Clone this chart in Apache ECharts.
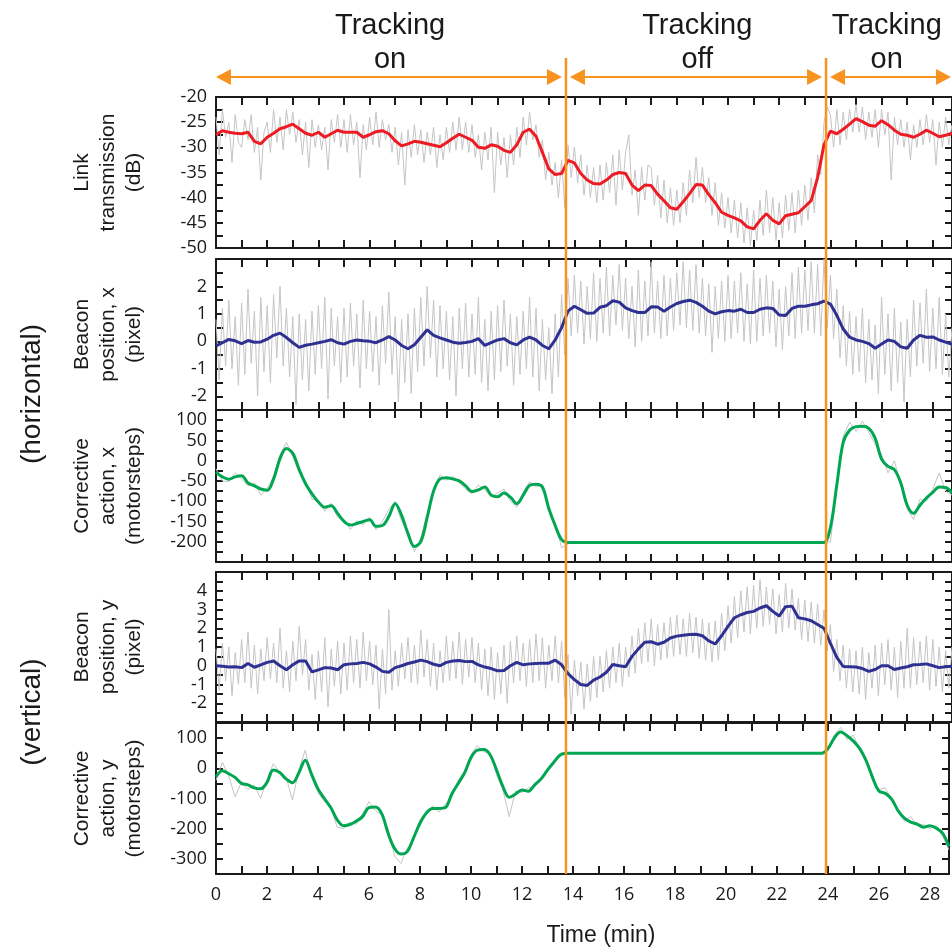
<!DOCTYPE html>
<html>
<head>
<meta charset="utf-8">
<script src="https://cdn.jsdelivr.net/npm/echarts@6.0.0/dist/echarts.min.js"></script>
<style>
  html, body { margin: 0; padding: 0; background: #fff; }
  #main { width: 952px; height: 949px; }
</style>
</head>
<body>
<div id="main"></div>
<script>
// time axis (min), smoothed traces every 0.25 min, raw traces every 0.125 min
const times = [
  0,0.25,0.5,0.75,1,1.25,1.5,1.75,2,2.25,2.5,2.75,3,3.25,3.5,3.75,4,4.25,4.5,4.75,
  5,5.25,5.5,5.75,6,6.25,6.5,6.75,7,7.25,7.5,7.75,8,8.25,8.5,8.75,9,9.25,9.5,9.75,
  10,10.25,10.5,10.75,11,11.25,11.5,11.75,12,12.25,12.5,12.75,13,13.25,13.5,13.75,
  14,14.25,14.5,14.75,15,15.25,15.5,15.75,16,16.25,16.5,16.75,17,17.25,17.5,17.75,
  18,18.25,18.5,18.75,19,19.25,19.5,19.75,20,20.25,20.5,20.75,21,21.25,21.5,21.75,
  22,22.25,22.5,22.75,23,23.25,23.5,23.75,24,24.25,24.5,24.75,25,25.25,25.5,25.75,
  26,26.25,26.5,26.75,27,27.25,27.5,27.75,28,28.25,28.5,28.75
];
const timesFine = [
  0,0.125,0.25,0.375,0.5,0.625,0.75,0.875, 1,1.125,1.25,1.375,1.5,1.625,1.75,1.875,
  2,2.125,2.25,2.375,2.5,2.625,2.75,2.875, 3,3.125,3.25,3.375,3.5,3.625,3.75,3.875,
  4,4.125,4.25,4.375,4.5,4.625,4.75,4.875, 5,5.125,5.25,5.375,5.5,5.625,5.75,5.875,
  6,6.125,6.25,6.375,6.5,6.625,6.75,6.875, 7,7.125,7.25,7.375,7.5,7.625,7.75,7.875,
  8,8.125,8.25,8.375,8.5,8.625,8.75,8.875, 9,9.125,9.25,9.375,9.5,9.625,9.75,9.875,
  10,10.125,10.25,10.375,10.5,10.625,10.75,10.875, 11,11.125,11.25,11.375,11.5,11.625,11.75,11.875,
  12,12.125,12.25,12.375,12.5,12.625,12.75,12.875, 13,13.125,13.25,13.375,13.5,13.625,13.75,13.875,
  14,14.125,14.25,14.375,14.5,14.625,14.75,14.875, 15,15.125,15.25,15.375,15.5,15.625,15.75,15.875,
  16,16.125,16.25,16.375,16.5,16.625,16.75,16.875, 17,17.125,17.25,17.375,17.5,17.625,17.75,17.875,
  18,18.125,18.25,18.375,18.5,18.625,18.75,18.875, 19,19.125,19.25,19.375,19.5,19.625,19.75,19.875,
  20,20.125,20.25,20.375,20.5,20.625,20.75,20.875, 21,21.125,21.25,21.375,21.5,21.625,21.75,21.875,
  22,22.125,22.25,22.375,22.5,22.625,22.75,22.875, 23,23.125,23.25,23.375,23.5,23.625,23.75,23.875,
  24,24.125,24.25,24.375,24.5,24.625,24.75,24.875, 25,25.125,25.25,25.375,25.5,25.625,25.75,25.875,
  26,26.125,26.25,26.375,26.5,26.625,26.75,26.875, 27,27.125,27.25,27.375,27.5,27.625,27.75,27.875,
  28,28.125,28.25,28.375,28.5,28.625,28.75
];

// tracking switched off / back on (min)
const switchTimes = [13.67, 23.83];

// link transmission (dB)
const linkSmooth = [
  -27.5,-26.7,-27.0,-27.2,-27.3,-27.0,-28.8,-29.3,-28.0,-27.2,-26.3,-25.9,-25.4,-26.3,-27.2,-27.6,
  -27.0,-28.0,-27.3,-26.6,-27.0,-27.0,-27.0,-28.0,-27.5,-26.9,-26.7,-27.3,-28.7,-29.7,-29.3,-28.8,
  -29.0,-29.3,-29.6,-29.9,-29.1,-28.2,-27.4,-28.0,-28.6,-30.0,-30.2,-29.5,-29.8,-30.6,-31.0,-29.5,
  -27.0,-26.4,-27.8,-31.0,-34.3,-35.4,-35.2,-32.6,-33.1,-35.2,-36.5,-37.2,-37.3,-36.5,-35.4,-35.0,
  -35.2,-37.5,-38.6,-37.5,-37.6,-39.3,-40.6,-42.0,-42.3,-40.8,-39.2,-37.4,-37.5,-39.4,-41.0,-42.9,
  -43.5,-44.0,-44.6,-45.8,-46.2,-44.5,-43.2,-44.5,-45.2,-43.6,-43.3,-43.0,-41.8,-40.6,-36.0,-29.5,
  -26.8,-27.3,-26.4,-25.4,-24.3,-24.9,-25.6,-25.8,-24.7,-25.5,-26.6,-27.4,-27.6,-28.0,-27.4,-26.6,
  -27.2,-27.9,-27.6,-27.2
];
const linkRaw = [
  -24.0,-31.5,-22.5,-28.0,-25.0,-33.0,-23.5,-29.0, -30.0,-24.5,-28.5,-23.5,-31.0,-26.0,-36.5,-27.0,
  -25.0,-31.0,-22.5,-29.0,-24.0,-30.5,-22.5,-27.5, -23.0,-29.0,-24.5,-31.5,-25.0,-34.0,-24.5,-30.0,
  -25.5,-30.5,-26.0,-34.5,-24.5,-29.0,-23.5,-30.0, -24.5,-31.0,-23.5,-29.5,-25.0,-36.0,-25.5,-30.5,
  -24.0,-29.5,-23.0,-30.0,-24.5,-28.5,-25.5,-31.0, -26.0,-33.5,-27.0,-37.5,-26.5,-32.0,-25.5,-31.5,
  -26.5,-33.0,-27.0,-31.5,-26.0,-34.0,-27.5,-32.5, -26.0,-31.0,-25.0,-30.5,-24.0,-30.5,-25.0,-31.0,
  -25.5,-32.0,-27.5,-34.5,-27.0,-32.5,-26.0,-39.0, -27.0,-33.5,-28.0,-36.0,-27.5,-33.5,-26.0,-32.0,
  -24.0,-29.5,-23.0,-28.5,-25.5,-32.0,-28.5,-36.5, -31.0,-37.5,-33.0,-40.0,-32.5,-42.0,-29.5,-36.0,
  -30.0,-37.0,-31.5,-39.5,-33.5,-40.0,-34.0,-41.0, -33.5,-40.5,-33.0,-39.0,-31.5,-41.5,-30.5,-38.5,
  -31.0,-27.5,-39.5,-34.5,-43.5,-34.0,-40.5,-33.5, -34.0,-41.5,-35.5,-44.0,-36.5,-45.0,-38.0,-45.5,
  -38.5,-45.0,-37.0,-43.5,-34.5,-41.0,-32.0,-40.0, -34.0,-41.0,-36.0,-43.5,-37.0,-45.5,-39.0,-46.0,
  -40.0,-47.0,-40.5,-48.0,-41.0,-49.0,-42.0,-49.5, -42.5,-48.5,-40.5,-47.5,-38.5,-47.0,-40.0,-48.5,
  -41.0,-48.0,-39.5,-46.5,-39.0,-47.0,-38.5,-45.5, -37.5,-44.5,-36.0,-43.0,-31.5,-35.5,-25.0,-22.0,
  -23.5,-30.0,-22.5,-29.5,-23.0,-28.5,-22.5,-27.0, -21.5,-27.0,-22.0,-28.5,-23.0,-28.0,-22.5,-30.0,
  -22.5,-27.5,-23.0,-36.5,-24.0,-29.5,-24.5,-30.0, -25.0,-32.5,-25.5,-30.0,-24.5,-29.5,-23.5,-29.0,
  -24.5,-33.5,-25.0,-30.0,-24.0,-29.5,-25.5
];

// beacon position x (pixel)
const beaconXSmooth = [
  -0.17,-0.05,0.07,0.02,-0.08,0.03,-0.03,-0.02,0.08,0.22,0.3,0.14,-0.05,-0.22,-0.14,-0.1,
  -0.05,0.0,0.06,-0.05,-0.1,0.0,0.05,0.02,0.0,-0.05,0.05,0.17,0.05,-0.15,-0.27,-0.12,
  0.15,0.42,0.22,0.13,0.05,-0.03,-0.07,-0.04,0.0,0.1,-0.15,-0.05,0.05,0.1,-0.05,-0.13,
  0.05,0.15,0.05,-0.15,-0.27,0.05,0.5,1.1,1.28,1.15,1.02,1.03,1.24,1.3,1.48,1.43,
  1.22,1.12,1.05,1.05,1.26,1.25,1.1,1.25,1.38,1.45,1.5,1.42,1.28,1.1,1.0,1.08,
  1.12,1.1,1.17,1.05,1.05,1.17,1.22,1.2,0.96,0.94,1.2,1.28,1.28,1.33,1.37,1.47,
  1.36,0.95,0.45,0.15,0.05,0.0,-0.08,-0.25,-0.1,0.05,0.0,-0.2,-0.25,0.05,0.22,0.15,
  0.16,0.05,-0.03,-0.11
];
const beaconXRaw = [
  0.8,-1.4,1.2,-0.9,1.5,-1.0,0.9,-1.6, 1.4,-1.2,1.9,-0.8,1.1,-2.0,1.6,-1.1,
  1.3,-1.5,1.7,-0.6,2.0,-0.9,1.2,-1.3, 0.9,-2.3,1.0,-1.4,0.8,-1.8,1.1,-1.2,
  1.3,-1.0,1.6,-2.1,1.2,-0.9,0.9,-1.5, 1.2,-1.3,1.4,-0.9,1.0,-1.7,1.5,-1.0,
  1.1,-1.1,0.9,-1.6,1.3,-0.8,1.8,-1.2, 0.9,-2.2,0.8,-1.5,1.0,-1.9,1.2,-1.1,
  1.6,-0.9,2.0,-0.6,1.5,-1.3,1.3,-1.0, 1.1,-1.4,0.9,-2.0,1.2,-1.0,1.4,-1.3,
  1.0,-1.2,1.6,-1.5,0.8,-1.8,1.1,-1.4, 1.3,-1.1,1.5,-0.9,1.0,-1.6,0.9,-1.2,
  1.1,-1.0,1.6,-1.3,1.2,-1.8,0.8,-1.4, 0.5,-1.9,1.0,-1.3,1.7,-0.5,2.3,0.2,
  2.4,0.3,2.2,-0.1,2.0,0.1,2.5,0.0, 2.3,0.3,2.7,0.2,2.4,0.6,2.8,0.4,
  2.3,0.1,2.0,-0.2,2.6,0.0,2.2,0.2, 2.9,0.3,2.2,0.1,2.4,0.2,2.3,0.4,
  2.5,0.6,2.9,0.5,2.6,0.4,2.8,0.3, 2.3,0.2,2.1,-0.4,2.0,0.1,2.2,0.0,
  2.4,0.1,2.2,0.3,2.5,0.0,2.1,-0.1, 2.6,0.0,2.3,0.2,2.4,0.3,2.2,-0.2,
  1.9,-0.3,2.0,0.2,2.5,0.1,2.7,0.3, 2.6,0.4,2.9,0.3,2.8,0.2,3.0,0.5,
  2.4,0.1,1.9,-0.6,1.3,-0.9,1.1,-1.2, 0.9,-1.1,1.2,-1.5,0.8,-1.4,0.6,-1.9,
  1.6,-1.2,1.0,-1.8,1.2,-1.5,0.7,-2.2, 0.8,-1.3,1.5,-0.9,1.4,-0.8,1.9,-1.1,
  1.2,-1.0,1.6,-1.2,1.0,-1.3,0.5
];

// corrective action x (motorsteps)
const corrXSmooth = [
  -28,-40,-46,-40,-37,-55,-62,-70,-73,-45,5,30,18,-22,-57,-82,
  -102,-115,-111,-130,-150,-159,-155,-150,-146,-162,-160,-138,-106,-135,-180,-212,
  -200,-140,-75,-45,-42,-45,-50,-62,-76,-72,-65,-85,-89,-80,-90,-106,
  -85,-61,-58,-65,-118,-160,-195,-202,
  -202,-202,-202,-202,-202,-202,-202,-202,-202,-202,-202,-202,-202,-202,-202,-202,
  -202,-202,-202,-202,-202,-202,-202,-202,-202,-202,-202,-202,-202,-202,-202,-202,
  -202,-202,-202,-202,-202,-202,-202,-202,
  -165,-60,45,75,84,85,80,55,4,-14,-22,-55,-110,-130,-110,-92,-78,-65,-66,-80
];
const corrXRaw = [
  -20,-50,-52,-30,-45,-62,-55,-85,-68,-40,15,45,10,-30,-50,-95,
  -98,-125,-105,-140,-145,-170,-148,-158,-140,-170,-150,-120,-100,-150,-172,-225,
  -190,-130,-70,-35,-48,-38,-55,-70,-82,-60,-72,-90,-80,-70,-100,-115,
  -78,-52,-65,-58,-125,-155,-215,-205,
  -202,-202,-202,-202,-202,-202,-202,-202,-202,-202,-202,-202,-202,-202,-202,-202,
  -202,-202,-202,-202,-202,-202,-202,-202,-202,-202,-202,-202,-202,-202,-202,-202,
  -202,-202,-202,-202,-202,-202,-202,-202,
  -200,-70,60,95,72,98,70,40,15,-30,0,-60,-120,-145,-95,-100,-70,-30,-75,-85
];

// beacon position y (pixel)
const beaconYSmooth = [
  0.0,-0.03,-0.07,-0.05,-0.1,0.12,-0.08,0.05,0.18,0.25,0.0,-0.21,0.05,0.26,0.25,-0.33,
  -0.22,-0.1,-0.12,-0.21,0.05,0.1,0.12,0.18,0.1,-0.07,-0.3,-0.35,-0.1,0.0,0.12,0.2,
  0.3,0.22,0.08,0.0,0.18,0.25,0.28,0.22,0.23,0.05,-0.07,-0.15,-0.27,-0.25,0.0,0.18,
  0.05,0.1,0.12,0.14,0.14,0.3,0.05,-0.42,-0.74,-1.0,-1.05,-0.77,-0.6,-0.35,0.07,0.0,
  -0.05,0.5,0.9,1.25,1.28,1.15,1.25,1.48,1.58,1.63,1.67,1.68,1.6,1.33,1.16,1.6,
  2.1,2.56,2.72,2.84,2.9,3.08,3.2,2.9,2.65,3.15,3.18,2.56,2.5,2.4,2.2,2.0,
  1.2,0.45,-0.04,-0.05,-0.07,-0.15,-0.3,-0.2,0.0,0.0,-0.2,-0.12,-0.05,0.05,0.07,0.1,
  0.0,-0.1,-0.05,-0.02
];
const beaconYRaw = [
  0.9,-1.3,1.2,-0.8,1.0,-1.6,0.7,-1.0, 1.4,-0.9,1.8,-1.2,1.1,-1.5,0.9,-0.8,
  1.5,-0.7,1.2,-0.9,2.0,-1.2,0.8,-1.4, 1.3,-0.8,2.1,-0.5,1.4,-1.3,0.6,-1.8,
  0.8,-1.4,1.5,-2.2,0.9,-1.1,1.3,-1.5, 1.2,-1.3,1.6,-0.9,1.4,-1.2,1.8,-0.8,
  1.3,-1.0,1.1,-2.3,0.9,-1.5,3.0,-1.3, 0.8,-1.1,1.2,-0.7,1.5,-0.9,1.1,-1.0,
  1.9,-0.6,1.4,-1.1,1.2,-1.3,0.8,-0.9, 1.6,-0.8,1.3,-0.7,1.8,-1.0,1.4,-0.6,
  1.5,-0.9,1.2,-1.3,0.9,-1.6,1.0,-1.8, 0.7,-1.5,1.1,-2.0,1.3,-0.9,1.6,-0.8,
  1.2,-1.1,1.4,-0.9,1.7,-0.8,1.5,-1.2, 1.1,-0.8,1.6,-0.9,1.3,-1.7,0.6,-2.6,
  0.3,-1.6,0.2,-2.3,0.1,-1.9,0.5,-1.7, 0.5,-1.4,0.8,-1.2,1.0,-0.9,1.2,-1.1,
  1.0,-0.6,1.6,-0.4,2.0,0.1,2.3,0.2, 2.5,0.0,2.2,0.3,2.3,0.4,2.6,0.5,
  2.7,0.6,2.5,0.5,2.8,0.7,2.6,0.4, 2.5,0.3,2.3,0.2,2.4,0.3,2.8,0.8,
  3.2,1.2,3.7,1.5,4.0,1.8,4.2,1.7, 4.3,2.0,4.6,2.1,4.2,2.2,4.1,1.7,
  3.8,1.8,4.4,2.0,4.1,1.9,3.6,1.4, 3.5,1.3,3.4,1.2,3.3,1.1,3.0,0.8,
  2.2,-0.3,1.4,-0.8,1.1,-1.2,0.9,-1.4, 0.8,-1.5,1.0,-1.8,0.7,-1.2,1.1,-1.6,
  1.2,-1.0,1.4,-1.3,1.0,-1.7,1.3,-1.2, 2.0,-1.2,1.5,-1.0,1.3,-0.9,1.6,-1.3,
  1.4,-1.1,1.0,-1.4,0.8,-1.2,1.0
];

// corrective action y (motorsteps)
const corrYSmooth = [
  -28,-8,-18,-30,-50,-55,-65,-68,-47,-6,-14,-35,-48,-15,27,-20,
  -68,-100,-130,-170,-190,-186,-175,-160,-130,-128,-150,-215,-265,-284,-276,-230,
  -182,-148,-133,-133,-130,-85,-50,-15,35,60,62,45,-5,-60,-96,-85,
  -72,-76,-55,-35,-6,20,44,50,
  50,50,50,50,50,50,50,50,50,50,50,50,50,50,50,50,
  50,50,50,50,50,50,50,50,50,50,50,50,50,50,50,50,
  50,50,50,50,50,50,50,50,
  65,100,120,108,90,65,25,-30,-75,-83,-102,-140,-165,-178,-185,-195,-190,-198,-215,-259
];
const corrYRaw = [
  -40,20,-25,-95,-45,-70,-55,-100,-35,15,-15,-30,-105,-5,60,-30,
  -80,-110,-125,-195,-200,-180,-185,-150,-110,-140,-155,-200,-290,-315,-265,-240,
  -170,-150,-125,-145,-118,-95,-40,-10,45,75,55,50,-20,-70,-160,-75,
  -80,-65,-60,-40,0,15,50,52,
  50,50,50,50,50,50,50,50,50,50,50,50,50,50,50,50,
  50,50,50,50,50,50,50,50,50,50,50,50,50,50,50,50,
  50,50,50,50,50,50,50,50,
  60,110,135,95,110,60,35,-40,-70,-65,-105,-135,-175,-160,-190,-185,-200,-190,-225,-270
];

const panelTitles = [
  ['Link', 'transmission', '(dB)'],
  ['Beacon', 'position, x', '(pixel)'],
  ['Corrective', 'action, x', '(motorsteps)'],
  ['Beacon', 'position, y', '(pixel)'],
  ['Corrective', 'action, y', '(motorsteps)']
];

const RED = '#ed1c24', NAVY = '#2e3192', GREEN = '#00a651', GRAY = '#c4c4c4', ORANGE = '#f7931e';
const INK = '#1a1a1a';
const tickFont = 'Open Sans';
const textFont = 'Liberation Sans';

const panels = [
  {top: 97, height: 151, min: -50, max: -20, interval: 2.5,
    label: v => (v % 5 === 0 ? String(v) : ''),
    raw: linkRaw, rawT: timesFine, smooth: linkSmooth, color: RED, curve: false},
  {top: 259, height: 151, min: -2.5, max: 3, interval: 0.5,
    label: v => (Number.isInteger(v) && v <= 2 ? String(v) : ''),
    raw: beaconXRaw, rawT: timesFine, smooth: beaconXSmooth, color: NAVY, curve: false},
  {top: 410, height: 152, min: -250, max: 125, interval: 25,
    label: v => (v % 50 === 0 && v >= -200 && v <= 100 ? String(v) : ''),
    raw: corrXRaw, rawT: times, smooth: corrXSmooth, color: GREEN, curve: true},
  {top: 572, height: 150, min: -3, max: 5, interval: 0.5,
    label: v => (Number.isInteger(v) && v >= -2 && v <= 4 ? String(v) : ''),
    raw: beaconYRaw, rawT: timesFine, smooth: beaconYSmooth, color: NAVY, curve: false},
  {top: 723, height: 151, min: -350, max: 150, interval: 50,
    label: v => (v % 100 === 0 && v >= -300 && v <= 100 ? String(v) : ''),
    raw: corrYRaw, rawT: times, smooth: corrYSmooth, color: GREEN, curve: true}
];

const grid = [], xAxis = [], yAxis = [], series = [];
const axisLine = {show: true, onZero: false, lineStyle: {color: INK, width: 2}};

panels.forEach((p, i) => {
  const last = i === panels.length - 1;
  grid.push({left: 216, width: 736, top: p.top, height: p.height});
  ['bottom', 'top'].forEach(pos => {
    xAxis.push({
      type: 'value', gridIndex: i, position: pos, min: 0, max: 28.75, interval: 1,
      axisLine: axisLine,
      axisTick: {show: true, inside: true, length: 8, lineStyle: {color: INK, width: 2}},
      axisLabel: {
        show: last && pos === 'bottom', margin: 12, color: INK,
        fontFamily: tickFont, fontSize: 18,
        formatter: v => (Number.isInteger(v) && v % 2 === 0 ? String(v) : '')
      },
      splitLine: {show: false}
    });
  });
  ['left', 'right'].forEach(pos => {
    yAxis.push({
      type: 'value', gridIndex: i, position: pos, min: p.min, max: p.max, interval: p.interval,
      axisLine: axisLine,
      axisTick: {show: true, inside: true, length: 7, lineStyle: {color: INK, width: 2}},
      axisLabel: {
        show: pos === 'left', margin: 9, color: INK,
        fontFamily: tickFont, fontSize: 18, formatter: p.label
      },
      splitLine: {show: false}
    });
  });
  const title = panelTitles[i].join(' ');
  series.push({
    name: title + ' raw', type: 'line', xAxisIndex: 2 * i, yAxisIndex: 2 * i,
    data: p.rawT.map((t, k) => [t, p.raw[k]]),
    showSymbol: false, lineStyle: {color: GRAY, width: 1}, silent: true
  });
  series.push({
    name: title, type: 'line', xAxisIndex: 2 * i, yAxisIndex: 2 * i,
    data: times.map((t, k) => [t, p.smooth[k]]),
    smooth: p.curve ? 0.35 : false,
    showSymbol: false, lineStyle: {color: p.color, width: 3}
  });
});

const chart = echarts.init(document.getElementById('main'), null, {renderer: 'canvas'});
chart.setOption({animation: false, backgroundColor: '#fff', grid, xAxis, yAxis, series});

// overlays placed through the chart's own scales
const px = t => chart.convertToPixel({xAxisIndex: 0}, t);
const py = (i, v) => chart.convertToPixel({yAxisIndex: 2 * i}, v);
const plotBottom = py(4, panels[4].min);
const g = [];

const text = (str, x, y, size, rot) => ({
  type: 'text', x, y, rotation: rot || 0, silent: true,
  style: {text: str, fill: INK, fontFamily: textFont, fontSize: size, align: 'center', verticalAlign: 'middle'}
});

// panel y titles
panels.forEach((p, i) => {
  const cy = p.top + p.height / 2;
  panelTitles[i].forEach((line, k) => g.push(text(line, 82 + k * 26, cy, 21, Math.PI / 2)));
});
g.push(text('(horizontal)', 32, 394, 28, Math.PI / 2));
g.push(text('(vertical)', 32, 712, 28, Math.PI / 2));
g.push(text('Time (min)', 601, 936, 23));

// tracking phase annotations
const arrowY = 77;
const edges = [0, switchTimes[0], switchTimes[1], 28.75];
const labels = [['Tracking', 'on', 6.8], ['Tracking', 'off', 18.8], ['Tracking', 'on', 26.2]];
for (let k = 0; k < 3; k++) {
  const x1 = px(edges[k]) + (k === 0 ? 0 : 4);
  const x2 = Math.min(px(edges[k + 1]) - (k === 2 ? 0 : 4), 951);
  g.push({type: 'line', silent: true, shape: {x1: x1 + 8, y1: arrowY, x2: x2 - 8, y2: arrowY},
    style: {stroke: ORANGE, lineWidth: 2}});
  g.push({type: 'polygon', silent: true, shape: {points: [[x1, arrowY], [x1 + 15, arrowY - 8], [x1 + 15, arrowY + 8]]},
    style: {fill: ORANGE}});
  g.push({type: 'polygon', silent: true, shape: {points: [[x2, arrowY], [x2 - 15, arrowY - 8], [x2 - 15, arrowY + 8]]},
    style: {fill: ORANGE}});
  const cx = px(labels[k][2]);
  g.push(text(labels[k][0], cx, 26, 29));
  g.push(text(labels[k][1], cx, 60, 29));
}

// switch lines through all panels
switchTimes.forEach(t => {
  const x = px(t);
  g.push({type: 'line', silent: true, z: 100, shape: {x1: x, y1: 58, x2: x, y2: plotBottom},
    style: {stroke: ORANGE, lineWidth: 2.5}});
});

chart.setOption({graphic: g});
</script>
</body>
</html>
